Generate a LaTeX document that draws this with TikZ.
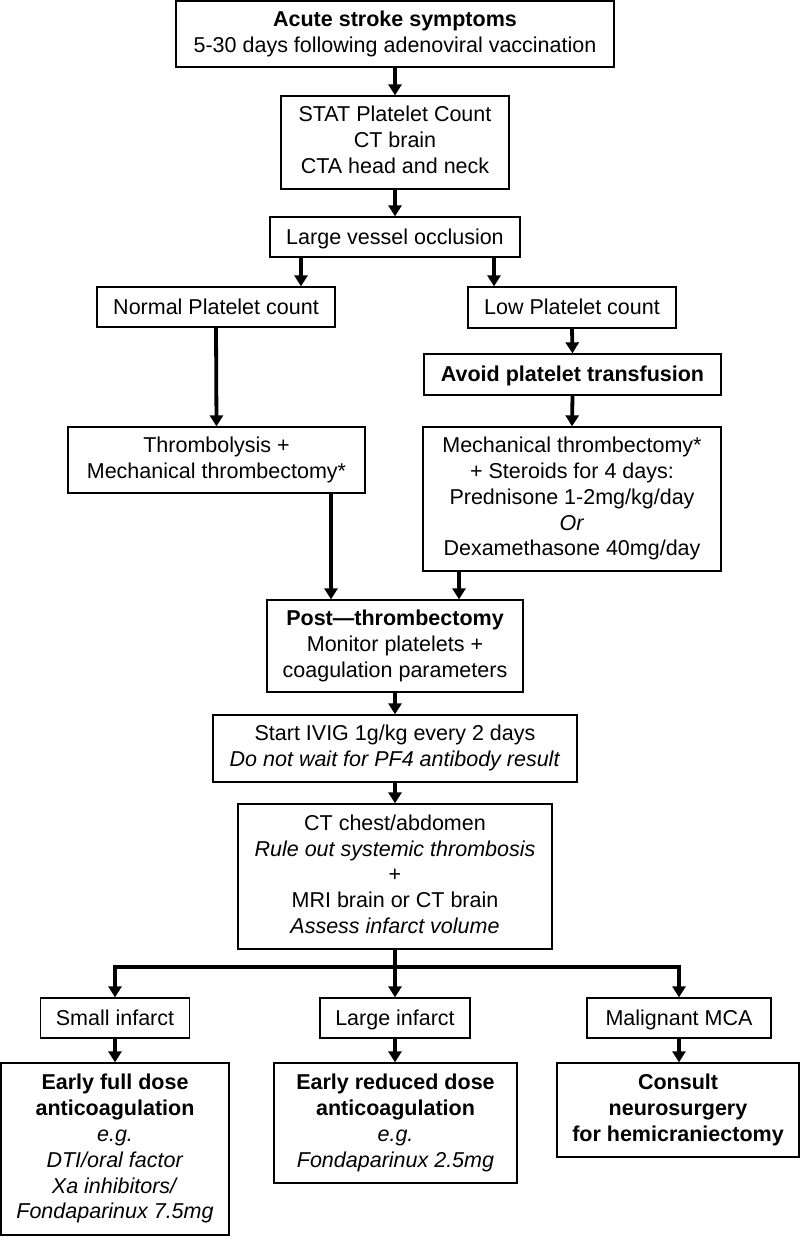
\documentclass[tikz,border=0pt]{standalone}
\usepackage{fontspec}
\setmainfont{Liberation Sans}
\usetikzlibrary{arrows.meta,calc}
\newcommand\boxstrut{\rule[-5pt]{0pt}{24pt}}
\begin{document}
\begin{tikzpicture}[x=1pt,y=-1pt,
  box/.style={draw=black,line width=1.3pt,inner sep=0pt,align=center,
    font=\fontsize{21.5}{25.8}\selectfont,
    execute at begin node=\boxstrut, execute at end node=\boxstrut},
  arr/.style={line width=3.8pt,-{Triangle[width=13pt,length=11pt]}},
  ln/.style={line width=3.8pt}]
\useasboundingbox (0,0) rectangle (800,1236);
\fill[white] (0,0) rectangle (800,1236);

\node[box,minimum width=438pt,minimum height=66pt] (b1) at (395,34)
  {\textbf{Acute stroke symptoms}\\5-30 days following adenoviral vaccination};
\node[box,minimum width=228pt,minimum height=93pt] (b2) at (395,142.5)
  {STAT Platelet Count\\CT brain\\CTA head and neck};
\node[box,minimum width=250pt,minimum height=40pt] (b3) at (395,237)
  {Large vessel occlusion};
\node[box,minimum width=238pt,minimum height=40pt] (nrm) at (216,307)
  {Normal Platelet count};
\node[box,minimum width=208pt,minimum height=41pt] (low) at (572,307.5)
  {Low Platelet count};
\node[box,minimum width=297pt,minimum height=66pt] (thr) at (216.5,460)
  {Thrombolysis +\\Mechanical thrombectomy*};
\node[box,minimum width=297pt,minimum height=41pt] (avd) at (572.5,374.5)
  {\textbf{Avoid platelet transfusion}};
\node[box,minimum width=298pt,minimum height=144pt] (mech) at (572,499)
  {Mechanical thrombectomy*\\+ Steroids for 4 days:\\Prednisone 1-2mg/kg/day\\\textit{Or}\\Dexamethasone 40mg/day};
\node[box,minimum width=256pt,minimum height=92pt] (post) at (395,646)
  {\textbf{Post—thrombectomy}\\Monitor platelets +\\coagulation parameters};
\node[box,minimum width=364pt,minimum height=67pt] (ivig) at (395,748.5)
  {Start IVIG 1g/kg every 2 days\\\textit{Do not wait for PF4 antibody result}};
\node[box,minimum width=314pt,minimum height=145pt] (ct) at (395,876.5)
  {CT chest/abdomen\\\textit{Rule out systemic thrombosis}\\+\\MRI brain or CT brain\\\textit{Assess infarct volume}};
\node[box,minimum width=149pt,minimum height=40pt] (sm) at (115,1018)
  {Small infarct};
\node[box,minimum width=150pt,minimum height=40pt] (lg) at (395,1018)
  {Large infarct};
\node[box,minimum width=184pt,minimum height=40pt] (mal) at (679,1018)
  {Malignant MCA};
\node[box,minimum width=228pt,minimum height=172pt] (efd) at (115,1149)
  {\textbf{Early full dose}\\\textbf{anticoagulation}\\\textit{e.g.}\\\textit{DTI/oral factor}\\\textit{Xa inhibitors/}\\\textit{Fondaparinux 7.5mg}};
\node[box,minimum width=243pt,minimum height=120pt] (erd) at (395.5,1123)
  {\textbf{Early reduced dose}\\\textbf{anticoagulation}\\\textit{e.g.}\\\textit{Fondaparinux 2.5mg}};
\node[box,minimum width=242pt,minimum height=94pt] (cns) at (678,1110)
  {\textbf{Consult}\\\textbf{neurosurgery}\\\textbf{for hemicraniectomy}};

\coordinate (xl) at (301,0);
\coordinate (xr) at (494,0);
\coordinate (xt) at (331,0);
\coordinate (xm) at (459,0);
\coordinate (jn) at (395,967);

\draw[arr] (b1) -- (b2);
\draw[arr] (b2) -- (b3);
\draw[arr] (b3.south -| xl) -- (nrm.north -| xl);
\draw[arr] (b3.south -| xr) -- (low.north -| xr);
\draw[arr] (nrm.south) -- (thr.north);
\draw[arr] (low.south) -- (avd.north);
\draw[arr] (avd.south) -- (mech.north);
\draw[arr] (thr.south -| xt) -- (post.north -| xt);
\draw[arr] (mech.south -| xm) -- (post.north -| xm);
\draw[arr] (post) -- (ivig);
\draw[arr] (ivig) -- (ct);
\draw[ln] (ct.south) -- (jn);
\draw[arr] (jn) -| (sm.north);
\draw[arr] (jn) -| (mal.north);
\draw[arr] (jn) -- (lg.north);
\draw[arr] (sm.south) -- (efd.north);
\draw[arr] (lg.south) -- (lg.south |- erd.north);
\draw[arr] (mal.south) -- (mal.south |- cns.north);
\end{tikzpicture}
\end{document}
